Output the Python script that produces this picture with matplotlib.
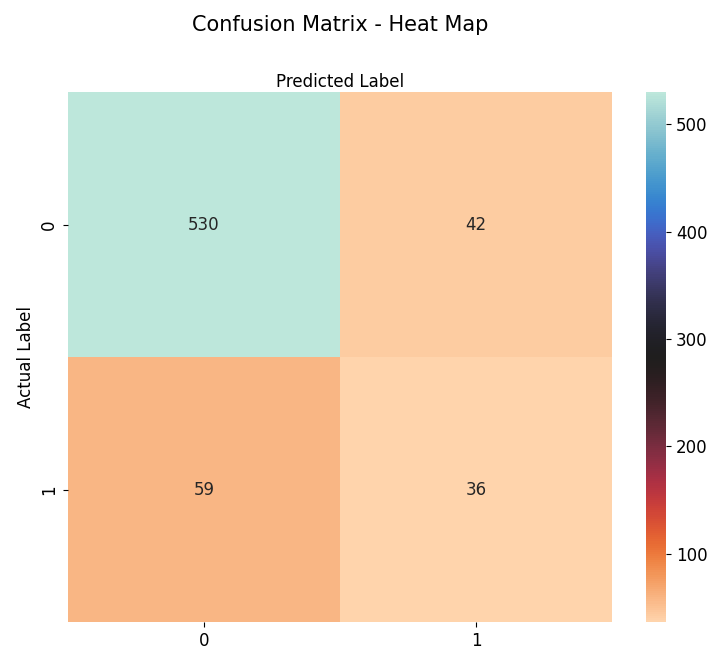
import matplotlib
matplotlib.use("Agg")
import matplotlib.pyplot as plt
import seaborn as sns
import pandas as pd
import numpy as np

# confusion matrix values (rows = actual, cols = predicted)
class_labels = [0, 1]
row_actual_0 = [530, 42]
row_actual_1 = [59, 36]

cnf_matrix = pd.DataFrame([row_actual_0, row_actual_1],
                          index=class_labels, columns=class_labels)

fig = plt.figure(figsize=(7.15, 6.64), dpi=100)
ax = fig.add_axes([0.095, 0.063, 0.761, 0.798])
cax = fig.add_axes([0.903, 0.063, 0.029, 0.798])

sns.heatmap(cnf_matrix, annot=True, cmap="icefire_r", fmt='g', ax=ax, cbar_ax=cax,
            annot_kws={'fontsize': 12})
ax.xaxis.set_label_position("top")
ax.set_title('Confusion Matrix - Heat Map', y=1.1, fontsize=15)
ax.set_ylabel('Actual Label', fontsize=12)
ax.set_xlabel('Predicted Label', fontsize=12)
ax.tick_params(labelsize=12)
cax.tick_params(labelsize=12)

fig.savefig('out.png', dpi=100)
